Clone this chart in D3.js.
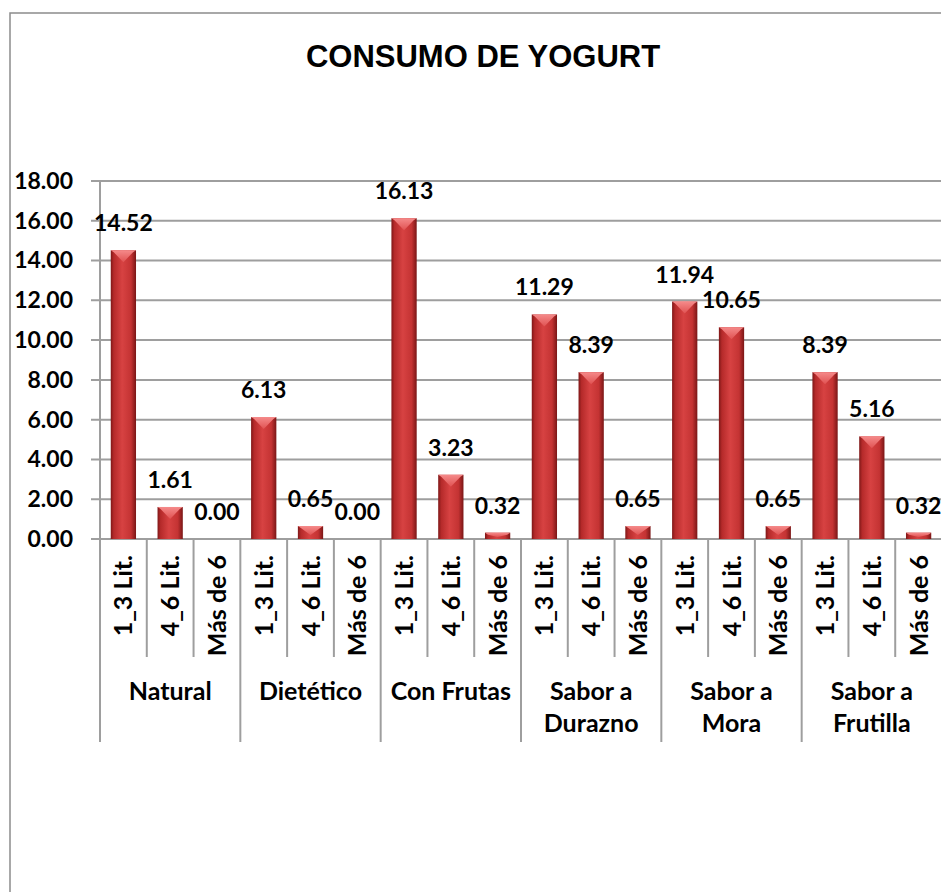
<!DOCTYPE html>
<html>
<head>
<meta charset="utf-8">
<script src="https://cdn.jsdelivr.net/npm/d3@7"></script>
<style>
  html, body { margin: 0; padding: 0; background: #fff; }
  svg text { font-family: Lato, "Open Sans", sans-serif; font-weight: bold; fill: #000; }
</style>
</head>
<body>
<div id="chart"></div>
<script>
// datos del gráfico
var groups = ["Natural", "Dietético", "Con Frutas", "Sabor a Durazno", "Sabor a Mora", "Sabor a Frutilla"];
var sizes = ["1_3 Lit.", "4_6 Lit.", "Más de 6"];
var values = [
  [14.52, 1.61, 0.00],
  [6.13, 0.65, 0.00],
  [16.13, 3.23, 0.32],
  [11.29, 8.39, 0.65],
  [11.94, 10.65, 0.65],
  [8.39, 5.16, 0.32]
];
var yTicks = [0, 2, 4, 6, 8, 10, 12, 14, 16, 18];
var title = "CONSUMO DE YOGURT";

// filas planas: una por barra
var rows = [];
groups.forEach(function(g, gi) {
  sizes.forEach(function(s, si) {
    rows.push({ group: g, gi: gi, size: s, si: si, value: values[gi][si], id: gi * sizes.length + si });
  });
});

var W = 941, H = 892;
var plotL = 100, plotR = 942, plotT = 181, plotB = 539;

var svg = d3.select("#chart").append("svg").attr("width", W).attr("height", H);

// degradados de las barras
var defs = svg.append("defs");
var gBody = defs.append("linearGradient").attr("id", "barBody").attr("x1", "0").attr("x2", "1").attr("y1", "0").attr("y2", "0");
[["0%", "#7e1717"], ["12%", "#b52a2a"], ["45%", "#d74242"], ["80%", "#c43333"], ["100%", "#7a1616"]].forEach(function(s) {
  gBody.append("stop").attr("offset", s[0]).attr("stop-color", s[1]);
});
var gTop = defs.append("linearGradient").attr("id", "barTop").attr("x1", "0").attr("x2", "0").attr("y1", "0").attr("y2", "1");
[["0%", "#f58a8a"], ["100%", "#e05252"]].forEach(function(s) {
  gTop.append("stop").attr("offset", s[0]).attr("stop-color", s[1]);
});

// marco del gráfico
svg.append("rect").attr("x", 10).attr("y", 13).attr("width", 1000).attr("height", 1000)
  .attr("fill", "none").attr("stroke", "#8c8c8c").attr("stroke-width", 1.5);

// título
svg.append("text").attr("x", 483).attr("y", 67).attr("text-anchor", "middle")
  .style("font-family", "'Liberation Sans', Arial, sans-serif").style("font-size", "31px")
  .text(title);

var x = d3.scaleBand().domain(rows.map(function(d) { return d.id; }))
  .range([plotL, plotR]).paddingInner(0.46).paddingOuter(0.23);
var step = x.step();
var y = d3.scaleLinear().domain([0, 18]).range([plotB, plotT]);

// líneas de la cuadrícula
svg.append("g").selectAll("line").data(yTicks).enter().append("line")
  .attr("x1", plotL - 9).attr("x2", plotR)
  .attr("y1", function(d) { return y(d); }).attr("y2", function(d) { return y(d); })
  .attr("stroke", "#9e9e9e").attr("stroke-width", 2);

// eje y
var yAxis = d3.axisLeft(y).tickValues(yTicks).tickSize(0).tickPadding(27)
  .tickFormat(function(d) { return d.toFixed(2); });
var ya = svg.append("g").attr("transform", "translate(" + plotL + ",0)").call(yAxis);
ya.select(".domain").remove();
ya.selectAll("text").style("font-family", "Lato, sans-serif").style("font-size", "23px").attr("fill", "#000");
svg.append("line").attr("x1", plotL).attr("x2", plotL).attr("y1", plotT).attr("y2", plotB + 203)
  .attr("stroke", "#9e9e9e").attr("stroke-width", 2);

// separadores de categorías
var bounds = d3.range(rows.length + 1);
svg.append("g").selectAll("line").data(bounds.slice(1)).enter().append("line")
  .attr("x1", function(i) { return plotL + i * step; }).attr("x2", function(i) { return plotL + i * step; })
  .attr("y1", plotB).attr("y2", function(i) { return i % sizes.length === 0 ? plotB + 203 : plotB + 118; })
  .attr("stroke", "#9e9e9e").attr("stroke-width", 2);

// barras
var bars = svg.append("g").selectAll("g").data(rows.filter(function(d) { return d.value > 0; })).enter().append("g");
bars.append("rect")
  .attr("x", function(d) { return x(d.id); })
  .attr("y", function(d) { return y(d.value); })
  .attr("width", x.bandwidth())
  .attr("height", function(d) { return y(0) - y(d.value); })
  .attr("fill", "url(#barBody)");
bars.append("path")
  .attr("d", function(d) {
    var x0 = x(d.id), x1 = x0 + x.bandwidth(), y0 = y(d.value);
    var h = Math.min(12, (y(0) - y0) * 0.7);
    return "M" + x0 + "," + y0 + "L" + x1 + "," + y0 + "L" + (x1 - 3) + "," + (y0 + 2) +
      "L" + (x0 + x1) / 2 + "," + (y0 + h) + "L" + (x0 + 3) + "," + (y0 + 2) + "Z";
  })
  .attr("fill", "url(#barTop)");

// etiquetas de valores
svg.append("g").selectAll("text").data(rows).enter().append("text")
  .attr("x", function(d) { return x(d.id) + x.bandwidth() / 2; })
  .attr("y", function(d) { return y(d.value) - 19; })
  .attr("text-anchor", "middle")
  .style("font-size", "23px")
  .text(function(d) { return d.value.toFixed(2); });

// etiquetas de tamaño (rotadas)
svg.append("g").selectAll("text").data(rows).enter().append("text")
  .attr("transform", function(d) { return "translate(" + (x(d.id) + x.bandwidth() / 2) + "," + (plotB + 16) + ") rotate(-90)"; })
  .attr("dy", "0.36em")
  .attr("text-anchor", "end")
  .style("font-size", "25px")
  .text(function(d) { return d.size; });

// etiquetas de grupo, con salto de línea si no caben
var gl = svg.append("g").selectAll("text").data(groups).enter().append("text")
  .attr("x", function(d, i) { return plotL + (i + 0.5) * sizes.length * step; })
  .attr("y", plotB + 161)
  .attr("text-anchor", "middle")
  .style("font-size", "25px");
gl.each(function(d) {
  var t = d3.select(this), words = d.split(" "), line = [];
  var ts = t.append("tspan").attr("x", t.attr("x")).attr("dy", 0);
  words.forEach(function(w) {
    line.push(w);
    ts.text(line.join(" "));
    if (ts.node().getComputedTextLength() > sizes.length * step - 16 && line.length > 1) {
      line.pop();
      ts.text(line.join(" "));
      line = [w];
      ts = t.append("tspan").attr("x", t.attr("x")).attr("dy", 32).text(w);
    }
  });
});
</script>
</body>
</html>
